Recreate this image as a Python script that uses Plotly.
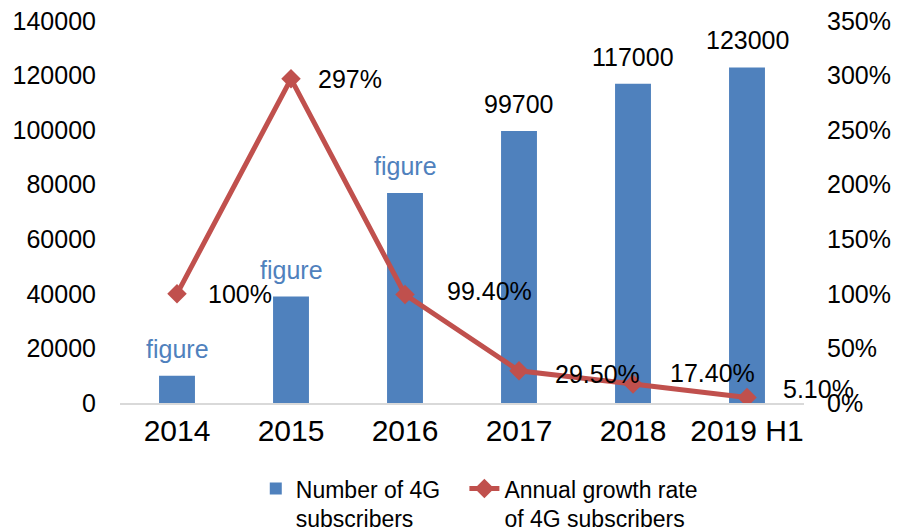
import plotly.graph_objects as go

categories = ["2014", "2015", "2016", "2017", "2018", "2019 H1"]
subscribers = [10000, 39000, 77000, 99700, 117000, 123000]
bar_labels = ["figure", "figure", "figure", "99700", "117000", "123000"]
growth_rate = [1.00, 2.97, 0.994, 0.295, 0.174, 0.051]
growth_labels = ["100%", "297%", "99.40%", "29.50%", "17.40%", "5.10%"]

FONT = "Liberation Sans, Arial, sans-serif"
BLUE = "#4F81BD"
RED = "#C0504D"

pos = list(range(len(categories)))

fig = go.Figure()
fig.add_trace(go.Bar(
    x=pos, y=subscribers, name="Number of 4G&nbsp;&nbsp;&nbsp;<br>subscribers",
    marker=dict(color=BLUE, line=dict(width=0)), xaxis="x", yaxis="y",
))
fig.add_trace(go.Scatter(
    x=pos, y=growth_rate, name="Annual growth rate<br>of 4G subscribers",
    mode="lines+markers", xaxis="x", yaxis="y2",
    line=dict(color=RED, width=5),
    marker=dict(symbol="diamond", size=15, color=RED),
))

annotations = []
for p, v, t in zip(pos, subscribers, bar_labels):
    annotations.append(dict(
        x=p, y=v, xref="x", yref="y", text=t, showarrow=False,
        xanchor="center", yanchor="bottom", yshift=11,
        font=dict(family=FONT, size=25, color=BLUE if t == "figure" else "black"),
    ))
yshifts = [0, 0, 4, -3, 11, 8]
xshifts = [29, 25, 40, 34, 35, 34]
for p, v, t, ys, xs in zip(pos, growth_rate, growth_labels, yshifts, xshifts):
    annotations.append(dict(
        x=p, y=v, xref="x", yref="y2", text=t, showarrow=False,
        xanchor="left", yanchor="middle", xshift=xs, yshift=ys,
        font=dict(family=FONT, size=25, color="black"),
    ))

fig.update_layout(
    width=898, height=529,
    margin=dict(l=120, r=94, t=21, b=126, autoexpand=False),
    paper_bgcolor="white", plot_bgcolor="white",
    font=dict(family=FONT, size=25, color="black"),
    bargap=0.685,
    showlegend=True,
    legend=dict(
        orientation="h", xref="paper", x=0.1985, xanchor="left",
        yref="container", y=0.117, yanchor="top",
        font=dict(family=FONT, size=23, color="black"),
        valign="top", itemwidth=30, traceorder="normal",
        bgcolor="rgba(0,0,0,0)",
    ),
    xaxis=dict(
        range=[-0.5, len(categories) - 0.5], automargin=False,
        tickmode="array", tickvals=pos, ticktext=categories,
        showgrid=False, zeroline=False,
        showline=True, linecolor="#D9D9D9", linewidth=2,
        ticks="", tickfont=dict(family=FONT, size=30, color="black"),
        ticklabelstandoff=0,
    ),
    yaxis=dict(
        range=[0, 140000], dtick=20000, showgrid=False, zeroline=False,
        showline=False, ticks="", tickformat="d", automargin=False,
        tickfont=dict(family=FONT, size=25, color="black"),
        ticklabelstandoff=23,
    ),
    yaxis2=dict(
        range=[0, 3.5], dtick=0.5, overlaying="y", side="right",
        showgrid=False, zeroline=False, showline=False, ticks="", automargin=False,
        tickformat=".0%", tickfont=dict(family=FONT, size=25, color="black"),
        ticklabelstandoff=22,
    ),
    annotations=annotations,
)

fig.write_html(
    "out.html",
    config={"displayModeBar": False},
    post_script="document.body.style.margin='0';document.body.style.overflow='hidden';",
)
